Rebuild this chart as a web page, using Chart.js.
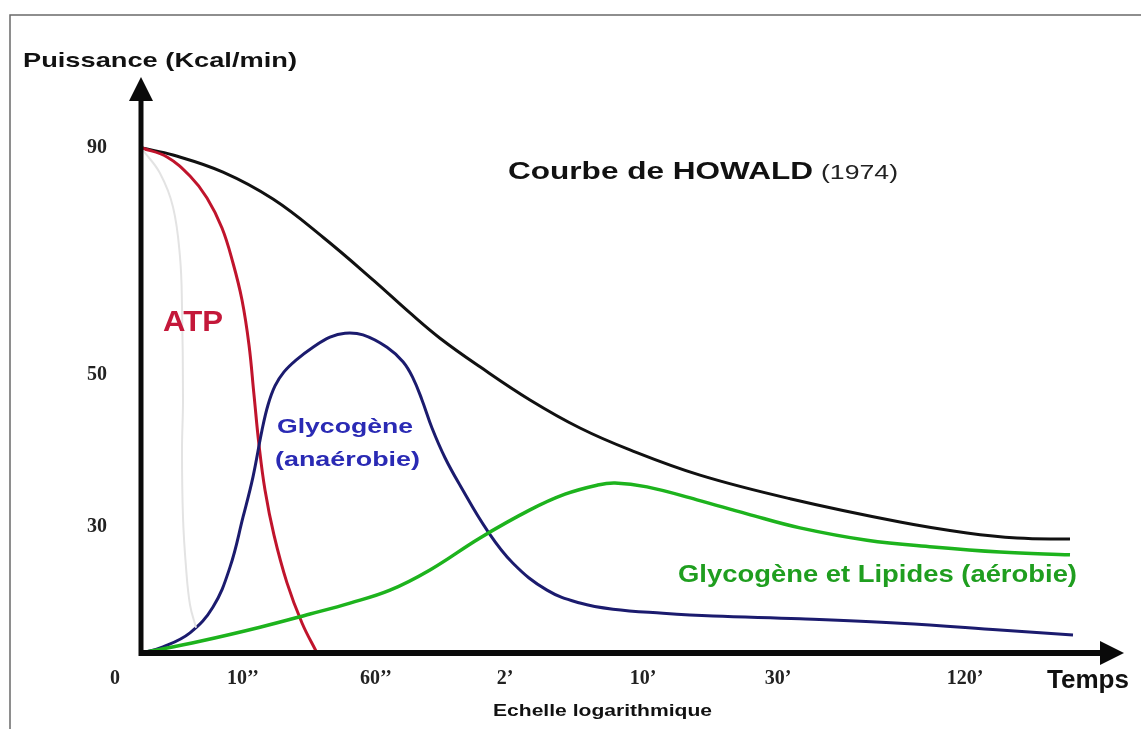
<!DOCTYPE html>
<html><head><meta charset="utf-8">
<script src="https://cdn.jsdelivr.net/npm/chart.js@4"></script>
<style>html,body{margin:0;padding:0;background:#fff;} canvas{display:block;}</style>
</head><body>
<canvas id="c" width="1141" height="729"></canvas>
<script>
// x: position along the logarithmic time axis (schematic units), y: power (schematic, drawn positions)
const totalCurve = [[0,90],[31,88.75],[81,85.7],[131,80.9],[181,74.1],[231,66.5],[268,60.6],[298,56.1],[338,51.0],[388,45.1],[438,40.1],[488,36.2],[558,31.7],[648,27.5],[758,23.35],[825,21.4],[875,20.5],[928,20.3]];
const atpCurve = [[0,90],[25,88.4],[48,85.0],[65,81.1],[80,75.75],[91,69.5],[100,62.9],[107,54.9],[112,46.0],[117,37.1],[123,29.05],[132,21.0],[145,12.5],[160,5.35],[175,0]];
const anaerobicCurve = [[0,0],[21,1.1],[48,3.6],[71,8.2],[88,15.3],[101,24.2],[111,31.4],[120,39.7],[126,44.2],[133,47.6],[142,50.1],[154,52.2],[171,54.5],[188,56.3],[203,57.0],[221,56.7],[245,54.5],[261,51.9],[271,49.0],[280,45.1],[290,40.1],[303,34.8],[318,29.9],[345,21.9],[371,16.0],[405,11.2],[438,8.9],[471,7.8],[521,7.1],[571,6.6],[658,6.1],[758,5.3],[858,4.1],[931,3.2]];
const aerobicCurve = [[0,0],[58,2.1],[118,4.6],[168,6.95],[208,8.9],[248,11.2],[288,14.8],[338,20.5],[388,25.5],[423,28.3],[455,29.9],[473,30.3],[505,29.6],[555,27.3],[605,24.8],[658,22.3],[725,20.1],[791,18.9],[858,18.0],[928,17.5]];
const faintCurve = [[1,89.6],[18,85.5],[31,79.5],[38,70.6],[40,61.7],[41,45.1],[40,36.2],[41,24.2],[44,15.3],[48,8.6],[54,4.5]];

const xTickPositions = [-27,101,234,363,501,636,823];
const xTickLabels = ['0','10\u2019\u2019','60\u2019\u2019','2\u2019','10\u2019','30\u2019','120\u2019'];
const yTickPositions = [22.5,49.5,90];
const yTickLabels = ['30','50','90'];

const SANS = "'Liberation Sans', Arial, sans-serif";
const SERIF = "'Liberation Serif', 'Times New Roman', serif";

const toPts = a => a.map(([x,y]) => ({x, y}));

function fitText(ctx, text, font, color, left, right, baseline) {
  ctx.save();
  ctx.font = font;
  ctx.fillStyle = color;
  ctx.textAlign = 'left';
  ctx.textBaseline = 'alphabetic';
  const w = ctx.measureText(text).width;
  ctx.translate(left, baseline);
  ctx.scale((right - left) / w, 1);
  ctx.fillText(text, 0, 0);
  ctx.restore();
}

const decor = {
  id: 'decor',
  beforeDraw(chart) {
    const ctx = chart.ctx;
    ctx.save();
    ctx.fillStyle = '#fff';
    ctx.fillRect(0, 0, chart.width, chart.height);
    ctx.strokeStyle = '#6a6a6a';
    ctx.lineWidth = 1.5;
    ctx.beginPath();
    ctx.moveTo(10, 729); ctx.lineTo(10, 15); ctx.lineTo(1141, 15);
    ctx.stroke();
    ctx.restore();
  },
  afterDatasetsDraw(chart) {
    const ctx = chart.ctx;
    const xs = chart.scales.x, ys = chart.scales.y;
    const x0 = xs.getPixelForValue(0) - 1;
    const y0 = ys.getPixelForValue(0);
    ctx.save();
    ctx.fillStyle = '#0a0a0a';
    ctx.strokeStyle = '#0a0a0a';
    ctx.lineWidth = 5;
    ctx.beginPath(); ctx.moveTo(x0, y0 + 3); ctx.lineTo(x0, 98); ctx.stroke();
    ctx.beginPath(); ctx.moveTo(x0, 77); ctx.lineTo(x0 - 12, 101); ctx.lineTo(x0 + 12, 101); ctx.closePath(); ctx.fill();
    ctx.lineWidth = 6;
    ctx.beginPath(); ctx.moveTo(x0 - 2, y0); ctx.lineTo(1104, y0); ctx.stroke();
    ctx.beginPath(); ctx.moveTo(1124, y0); ctx.lineTo(1100, y0 - 12); ctx.lineTo(1100, y0 + 12); ctx.closePath(); ctx.fill();
    ctx.restore();

    fitText(ctx, 'Puissance (Kcal/min)', 'bold 21px ' + SANS, '#111', 23, 297, 67);
    fitText(ctx, 'Courbe de HOWALD', 'bold 24px ' + SANS, '#111', 508, 813, 179);
    fitText(ctx, '(1974)', '21px ' + SANS, '#222', 821, 898, 179);
    fitText(ctx, 'ATP', 'bold 30px ' + SANS, '#c4183a', 163, 223, 331);
    fitText(ctx, 'Glycog\u00e8ne', 'bold 21px ' + SANS, '#2a2ab4', 277, 413, 433);
    fitText(ctx, '(ana\u00e9robie)', 'bold 21px ' + SANS, '#2a2ab4', 275, 420, 466);
    fitText(ctx, 'Glycog\u00e8ne et Lipides (a\u00e9robie)', 'bold 23px ' + SANS, '#1f9e1f', 678, 1077, 582);
    fitText(ctx, 'Temps', 'bold 25px ' + SANS, '#111', 1047, 1129, 688);
    fitText(ctx, 'Echelle logarithmique', 'bold 16px ' + SANS, '#111', 493, 712, 716);
  }
};

new Chart(document.getElementById('c').getContext('2d'), {
  type: 'line',
  data: {
    datasets: [
      { label: 'faint', data: toPts(faintCurve), borderColor: '#e3e3e3', borderWidth: 2 },
      { label: 'Glycogène et Lipides (aérobie)', data: toPts(aerobicCurve), borderColor: '#1db31d', borderWidth: 3.5 },
      { label: 'Glycogène (anaérobie)', data: toPts(anaerobicCurve), borderColor: '#1b1b6e', borderWidth: 3 },
      { label: 'ATP', data: toPts(atpCurve), borderColor: '#c0142c', borderWidth: 3 },
      { label: 'Total', data: toPts(totalCurve), borderColor: '#111111', borderWidth: 3 }
    ]
  },
  options: {
    responsive: false,
    animation: false,
    devicePixelRatio: 1,
    layout: { padding: { left: 0, right: 16, top: 70, bottom: 0 } },
    elements: { point: { radius: 0 }, line: { fill: false, tension: 0.4, capBezierPoints: true } },
    plugins: { legend: { display: false }, tooltip: { enabled: false } },
    scales: {
      x: {
        type: 'linear', min: -42, max: 983,
        grid: { display: false, drawTicks: false }, border: { display: false },
        afterBuildTicks: s => { s.ticks = xTickPositions.map(v => ({ value: v })); },
        afterFit: s => { s.height = 76; },
        ticks: { autoSkip: false, maxRotation: 0, minRotation: 0, padding: 14, color: '#222',
          font: { family: SERIF, size: 20, weight: 'bold' },
          callback: (v, i) => xTickLabels[i] }
      },
      y: {
        type: 'linear', min: 0, max: 103.9,
        grid: { display: false, drawTicks: false }, border: { display: false },
        afterBuildTicks: s => { s.ticks = yTickPositions.map(v => ({ value: v })); },
        afterFit: s => { s.width = 100; },
        ticks: { autoSkip: false, mirror: true, padding: -13, color: '#222',
          font: { family: SERIF, size: 20, weight: 'bold' },
          callback: (v, i) => yTickLabels[i] }
      }
    }
  },
  plugins: [decor]
});
</script>
</body></html>
